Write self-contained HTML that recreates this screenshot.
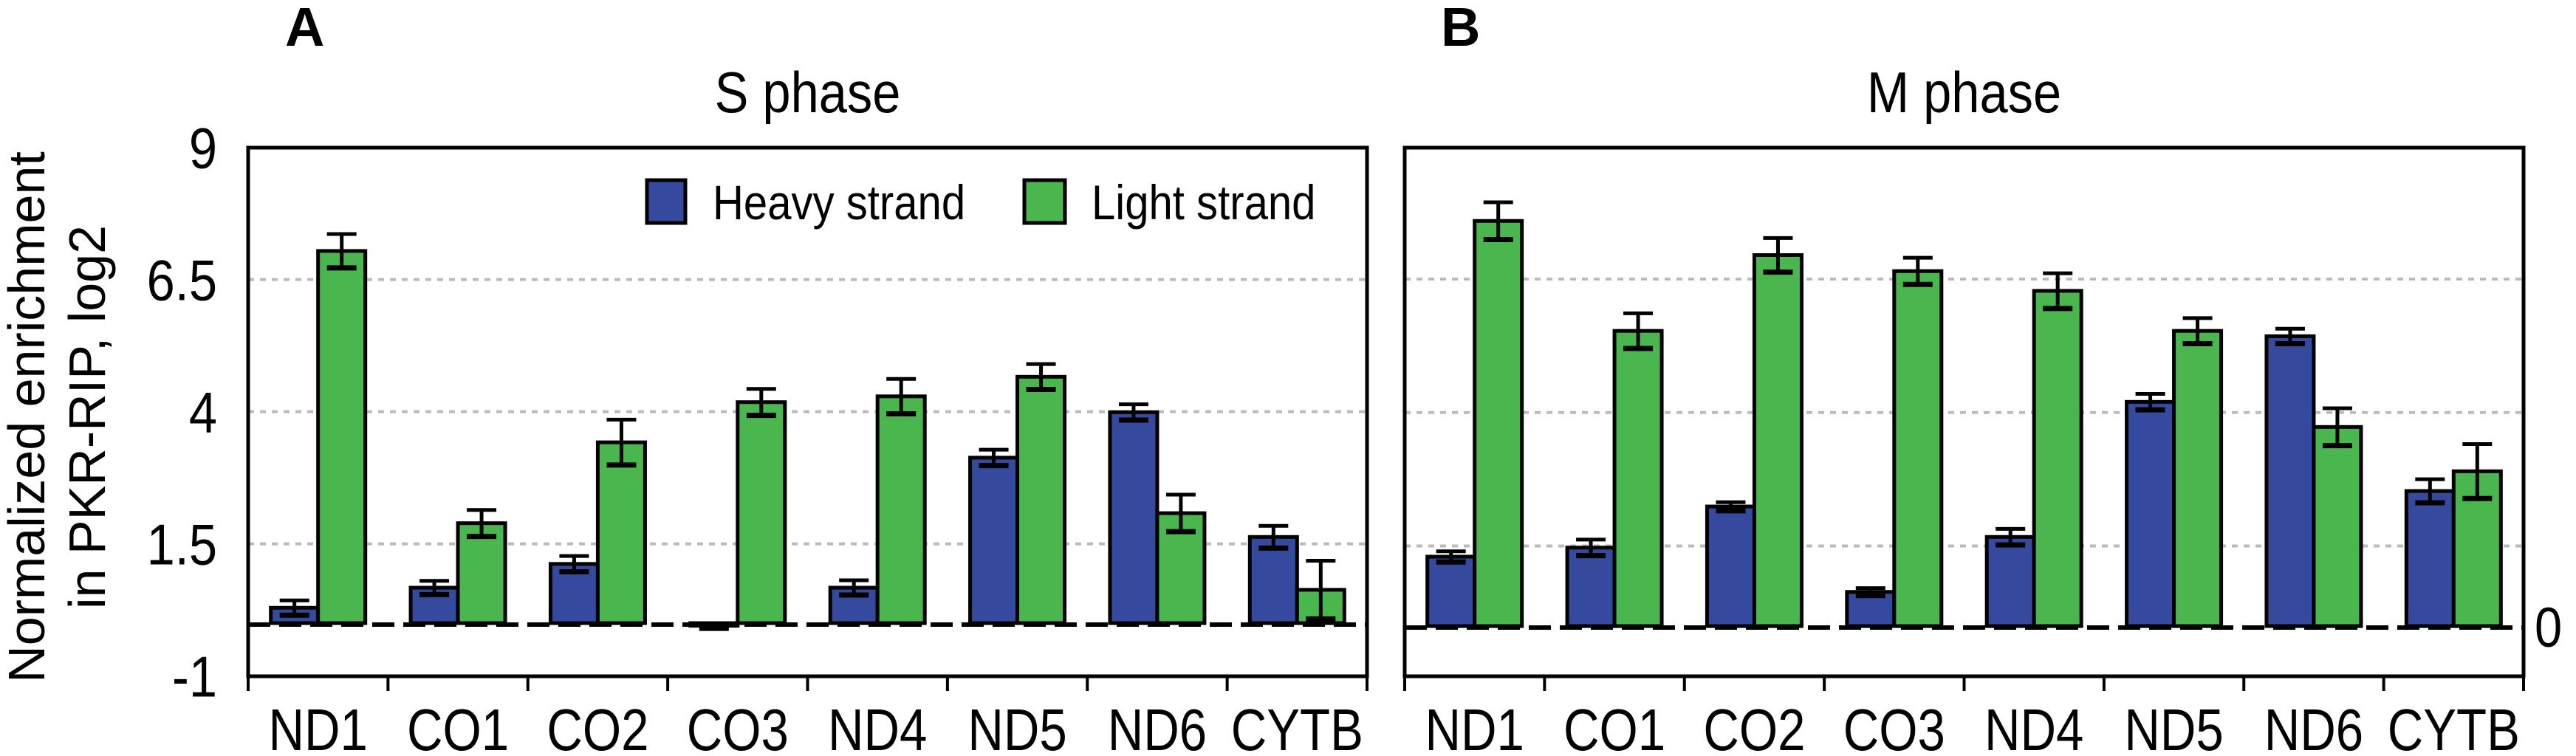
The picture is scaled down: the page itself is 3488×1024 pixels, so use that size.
<!DOCTYPE html>
<html><head><meta charset="utf-8"><style>
html,body{margin:0;padding:0;background:#fff;}
svg{display:block;font-family:"Liberation Sans",Arial,sans-serif;}
</style></head><body>
<svg id="chart" width="3488" height="1024" viewBox="0 0 3488 1024" xmlns="http://www.w3.org/2000/svg">
<g id="root"></g>
</svg>
<script>
const categories = ["ND1","CO1","CO2","CO3","ND4","ND5","ND6","CYTB"];
const sHeavy = [0.29,0.67,1.12,-0.05,0.67,3.13,3.99,1.63];
const sHeavyErr = [0.14,0.13,0.15,0.05,0.14,0.15,0.15,0.21];
const sLight = [7.04,1.89,3.42,4.18,4.29,4.66,2.08,0.63];
const sLightErr = [0.32,0.25,0.43,0.25,0.33,0.24,0.35,0.55];
const mHeavy = [1.30,1.47,2.24,0.64,1.67,4.20,5.43,2.53];
const mHeavyErr = [0.10,0.15,0.08,0.07,0.15,0.15,0.14,0.22];
const mLight = [7.59,5.53,6.95,6.65,6.28,5.53,3.73,2.90];
const mLightErr = [0.35,0.33,0.32,0.25,0.33,0.24,0.35,0.51];
const gridVals = [6.5,4,1.5];
const yTickLabels = ["9","6.5","4","1.5","-1"];
const yTickVals = [9,6.5,4,1.5,-1];

const NS="http://www.w3.org/2000/svg";
const root=document.getElementById('root');
function mk(tag,attrs,parent){const e=document.createElementNS(NS,tag);for(const k in attrs)e.setAttribute(k,attrs[k]);(parent||root).appendChild(e);return e;}
const BLUE="#354a9f", GREEN="#49b74d";

function panel(opts){
  const g=mk('g',{});
  
  
  const L=opts.left,R=opts.right,T=200,B=916;
  const y=v=>opts.y0-v*opts.k;
  const cw=(R-L)/categories.length;
  const x=i=>L+cw*(i+0.5);
  gridVals.forEach(v=>{
    const l=mk('line',{x1:L,x2:R,y1:y(v),y2:y(v),stroke:"#bbb","stroke-width":4,"stroke-dasharray":"8 8"},g);
    
    
  });
  const bw=64;
  categories.forEach((c,i)=>{
    [[opts.heavy,opts.heavyErr,BLUE,-1],[opts.light,opts.lightErr,GREEN,0]].forEach(([vals,errs,col,off])=>{
      const bx=x(i)+off*bw;
      const v=vals[i];
      const top=Math.min(y(v),y(0)), h=Math.abs(y(v)-y(0));
      const r=mk('rect',{x:bx,y:top,width:bw,height:Math.max(h,1),fill:col,stroke:"#000","stroke-width":5},g);
      
      
      const cx=bx+bw/2, e=errs[i];
      const eg=mk('g',{stroke:"#000","stroke-width":5},g);
      
      
      mk('line',{x1:cx,x2:cx,y1:y(v+e),y2:y(v-e)},eg);
      mk('line',{x1:cx-20,x2:cx+20,y1:y(v+e),y2:y(v+e)},eg);
      mk('line',{x1:cx-20,x2:cx+20,y1:y(v-e),y2:y(v-e),"stroke-width":7},eg);
    });
    const t=mk('text',{x:0,y:0,transform:`translate(${x(i)},1016) scale(0.84,1)`,"font-size":80,"text-anchor":"middle",fill:"#000"},g);
    t.textContent=c;
    
    
  });
  const z=mk('line',{x1:L,x2:R,y1:y(0)+2,y2:y(0)+2,stroke:"#000","stroke-width":6,"stroke-dasharray":"30 12"},g);
  
  
  const f=mk('rect',{x:L,y:T,width:R-L,height:B-T,fill:"none",stroke:"#000","stroke-width":5},g);
  
  
  for(let i=0;i<=categories.length;i++){
    mk('line',{x1:L+cw*i,x2:L+cw*i,y1:B,y2:936,stroke:"#000","stroke-width":4},g);
  }
  const tt=mk('text',{x:0,y:0,transform:`translate(${(L+R)/2},152) scale(0.88,1)`,"font-size":78,"text-anchor":"middle"},g);
  tt.textContent=opts.title;
  
  
  const pl=mk('text',{x:opts.letterX,y:62,"font-size":74,"font-weight":"bold"},g);
  pl.textContent=opts.letter;
  
  
  return y;
}
const yA=panel({name:'panel-s-phase',left:336,right:1851,y0:844,k:71.6,heavy:sHeavy,heavyErr:sHeavyErr,light:sLight,lightErr:sLightErr,title:"S phase",letter:"A",letterX:386});
panel({name:'panel-m-phase',left:1902,right:3417,y0:848,k:72.3,heavy:mHeavy,heavyErr:mHeavyErr,light:mLight,lightErr:mLightErr,title:"M phase",letter:"B",letterX:1951});
yTickLabels.forEach((s,i)=>{
  const t=mk('text',{x:0,y:0,transform:`translate(294,${yA(yTickVals[i])+28}) scale(0.88,1)`,"font-size":78,"text-anchor":"end"});
  t.textContent=s;
  
  
});
const z0=mk('text',{x:0,y:0,transform:"translate(3432,876) scale(0.88,1)","font-size":76});
z0.textContent="0";


const yt=mk('text',{transform:"translate(0,565) rotate(-90)","font-size":70,"text-anchor":"middle"});


const t1=mk('tspan',{x:0,y:60},yt);t1.textContent="Normalized enrichment";
const t2=mk('tspan',{x:0,y:142},yt);t2.textContent="in PKR-RIP, log2";
const lg=mk('g',{});


mk('rect',{x:876,y:244,width:52,height:58,fill:BLUE,stroke:"#000","stroke-width":5},lg);
const lt1=mk('text',{x:0,y:0,transform:"translate(965,297) scale(0.88,1)","font-size":66},lg);lt1.textContent="Heavy strand";
mk('rect',{x:1387,y:244,width:55,height:58,fill:GREEN,stroke:"#000","stroke-width":5},lg);
const lt2=mk('text',{x:0,y:0,transform:"translate(1478,297) scale(0.88,1)","font-size":66},lg);lt2.textContent="Light strand";
</script>
</body></html>
